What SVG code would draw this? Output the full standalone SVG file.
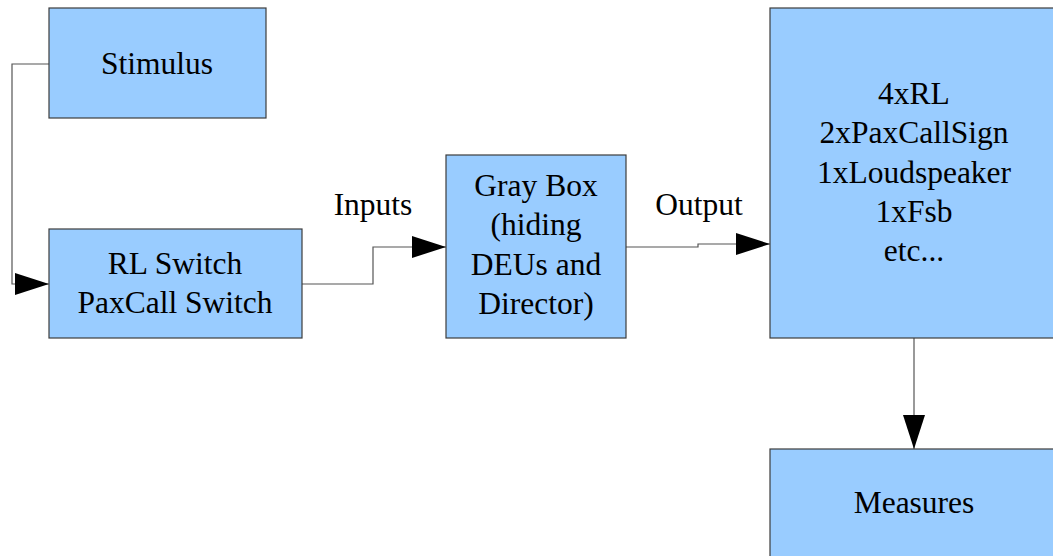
<svg xmlns="http://www.w3.org/2000/svg" width="1053" height="556" viewBox="0 0 1053 556">
<defs>
<marker id="arr" markerWidth="36" markerHeight="22" refX="34" refY="11" orient="auto" markerUnits="userSpaceOnUse">
<path d="M0,0 L34,11 L0,22 Z" fill="#000"/>
</marker>
<style>
.box{fill:#99ccff;stroke:#3c3c3c;stroke-width:1.2}
.c{fill:none;stroke:#555;stroke-width:1.2}
.t{font-family:'Liberation Serif','Times New Roman',serif;font-size:31.5px;fill:#000;text-anchor:middle}
</style>
</defs>
<rect width="1053" height="556" fill="#fff"/>
<g id="connectors">
<polyline class="c" points="49,64 12,64 12,284 49,284" marker-end="url(#arr)"/>
<polyline class="c" points="302,284 373,284 373,247 446,247" marker-end="url(#arr)"/>
<polyline class="c" points="626,247 698,247 698,244 770,244" marker-end="url(#arr)"/>
<polyline class="c" points="914,338 914,449" marker-end="url(#arr)"/>
<text class="t" x="373" y="215">Inputs</text>
<text class="t" x="699" y="215">Output</text>
</g>
<g id="stimulus">
<rect class="box" x="49" y="8" width="217" height="110"/>
<text class="t" x="157" y="74">Stimulus</text>
</g>
<g id="switch">
<rect class="box" x="49" y="229" width="253" height="109"/>
<text class="t" x="175" y="274">RL Switch</text>
<text class="t" x="175" y="313">PaxCall Switch</text>
</g>
<g id="graybox">
<rect class="box" x="446" y="155" width="180" height="183"/>
<text class="t" x="536" y="196">Gray Box</text>
<text class="t" x="536" y="235">(hiding</text>
<text class="t" x="536" y="275">DEUs and</text>
<text class="t" x="536" y="314">Director)</text>
</g>
<g id="devices">
<rect class="box" x="770" y="8" width="290" height="330"/>
<text class="t" x="914" y="104">4xRL</text>
<text class="t" x="914" y="143">2xPaxCallSign</text>
<text class="t" x="914" y="183">1xLoudspeaker</text>
<text class="t" x="914" y="222">1xFsb</text>
<text class="t" x="914" y="261">etc...</text>
</g>
<g id="measures">
<rect class="box" x="770" y="449" width="290" height="120"/>
<text class="t" x="914" y="513">Measures</text>
</g>
</svg>
